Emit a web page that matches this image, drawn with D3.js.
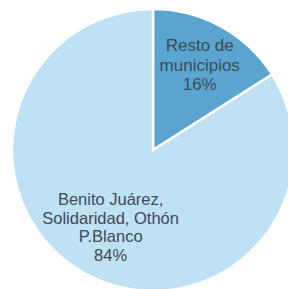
<!DOCTYPE html>
<html><head><meta charset="utf-8">
<script src="https://cdn.jsdelivr.net/npm/d3@7"></script>
<style>html,body{margin:0;padding:0;background:#fff;overflow:hidden}</style>
</head><body>
<svg id="chart" width="288" height="289"></svg>
<script>
const categories = [["Resto de", "municipios"], ["Benito Juárez,", "Solidaridad, Othón", "P.Blanco"]];
const values = [16, 84];
const valueLabels = ["16%", "84%"];
const colors = ["#5aa5d0", "#bfe1f4"];

const svg = d3.select("#chart");
const cx = 153, cy = 150, R = 141;
const g = svg.append("g").attr("transform", `translate(${cx},${cy})`);
const pie = d3.pie().sort(null).value(d => d)(values);
const arc = d3.arc().innerRadius(0).outerRadius(R);

g.selectAll("path").data(pie).enter().append("path")
  .attr("d", arc)
  .attr("fill", (d, i) => colors[i])
  .attr("stroke", "#fff").attr("stroke-width", 2.5).attr("stroke-linejoin", "miter");

const labelR = [97, 88];
const fontSizes = [17, 16.5];
const lineHs = [19.5, 18.5];
pie.forEach((d, i) => {
  const la = d3.arc().innerRadius(labelR[i]).outerRadius(labelR[i]);
  const [x, y] = la.centroid(d);
  const lines = categories[i].concat([valueLabels[i]]);
  const t = g.append("text")
    .attr("text-anchor", "middle")
    .attr("font-family", "Liberation Sans, Arial, sans-serif")
    .attr("font-size", fontSizes[i])
    .attr("fill", "#3e4a54");
  const n = lines.length;
  lines.forEach((s, k) => {
    t.append("tspan").attr("x", x)
      .attr("y", y + (k - (n - 1) / 2) * lineHs[i])
      .attr("dy", "0.35em")
      .text(s);
  });
});
</script>
</body></html>
